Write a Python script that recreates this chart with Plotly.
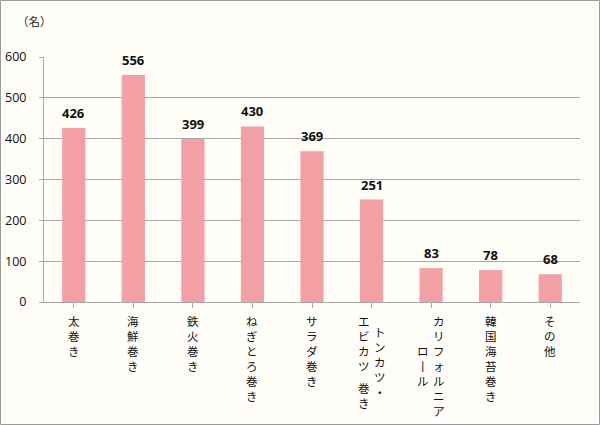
import plotly.graph_objects as go

# ---- data ----
categories = ["太巻き", "海鮮巻き", "鉄火巻き", "ねぎとろ巻き", "サラダ巻き",
              "トンカツ・\nエビカツ 巻き", "カリフォルニア\nロール", "韓国海苔巻き", "その他"]
values = [426, 556, 399, 430, 369, 251, 83, 78, 68]
y_ticks = [0, 100, 200, 300, 400, 500, 600]
unit_label = "（名）"

# ---- layout constants ----
W, H = 600, 425
ML, MR, MT, MB = 44, 20, 57, 123
PW, PH = W - ML - MR, H - MT - MB
BG = "#FFFDF7"
BAR = "#F2A0A4"
GRID = "#A9A9A9"
JP = "Noto Sans CJK JP"

x_idx = list(range(len(categories)))

fig = go.Figure()
fig.add_trace(go.Bar(
    x=x_idx, y=values, marker=dict(color=BAR, line=dict(width=0)),
    width=0.39, hoverinfo="skip",
))

annotations = []
# value labels
for i, v in zip(x_idx, values):
    annotations.append(dict(
        x=i, y=v, xref="x", yref="y", text=f"<b>{v}</b>", showarrow=False,
        yanchor="bottom", yshift=4, font=dict(family="Open Sans", size=13, color="#111111"),
    ))

# vertical category labels: one annotation per column segment, one char per line
FS = 11.5
PITCH = 1.3 * FS
COLSEP = 16
vert_map = {"ー": "丨"}


def units(s):
    return sum(0.5 if ch == " " else 1 for ch in s)


for i, cat in enumerate(categories):
    cols = cat.split("\n")
    maxu = max(units(c) for c in cols)
    n = len(cols)
    for ci, col in enumerate(cols):
        xoff = ((n - 1) / 2 - ci) * COLSEP  # first column is rightmost
        pos = (maxu - units(col)) / 2
        for seg in col.split(" "):
            if seg:
                text = "<br>".join(vert_map.get(ch, ch) for ch in seg)
                annotations.append(dict(
                    x=i, y=0, xref="x", yref="paper", text=text, showarrow=False,
                    yanchor="top", xanchor="center", align="center",
                    xshift=xoff, yshift=-(9 + pos * PITCH),
                    font=dict(family=JP, size=FS, color="#111111"),
                ))
            pos += len(seg) + 0.5

# unit label
annotations.append(dict(
    x=(15 - ML) / PW, y=(MT + PH - 21) / PH, xref="paper", yref="paper",
    text=unit_label, showarrow=False, xanchor="left", yanchor="middle",
    font=dict(family=JP, size=11.5, color="#222222"),
))

fig.update_layout(
    width=W, height=H,
    margin=dict(l=ML, r=MR, t=MT, b=MB, pad=0, autoexpand=False),
    paper_bgcolor=BG, plot_bgcolor=BG,
    showlegend=False,
    annotations=annotations,
    xaxis=dict(
        range=[-0.5, len(categories) - 0.5], tickmode="array", tickvals=x_idx,
        showticklabels=False, showgrid=False, showline=True, linecolor=GRID,
        linewidth=1, ticks="outside", tickson="boundaries", ticklen=5,
        tickcolor=GRID, zeroline=False, fixedrange=True, automargin=False,
    ),
    yaxis=dict(
        range=[0, 600], tickmode="array", tickvals=y_ticks,
        ticktext=[str(t) for t in y_ticks],
        showgrid=True, gridcolor=GRID, gridwidth=1,
        showline=True, linecolor=GRID, linewidth=1,
        ticks="outside", ticklen=4, tickcolor=GRID,
        tickfont=dict(family="Open Sans", size=12.5, color="#111111"),
        ticklabelstandoff=10, zeroline=False, fixedrange=True, automargin=False,
    ),
    shapes=[dict(
        type="rect", xref="paper", yref="paper",
        x0=(0.5 - ML) / PW, x1=(W - 0.5 - ML) / PW,
        y0=(MT + PH - (H - 0.5)) / PH, y1=(MT + PH - 0.5) / PH,
        line=dict(color="#9A9A9A", width=1), fillcolor="rgba(0,0,0,0)",
        layer="below",
    )],
)

fig.write_html("out.html")
